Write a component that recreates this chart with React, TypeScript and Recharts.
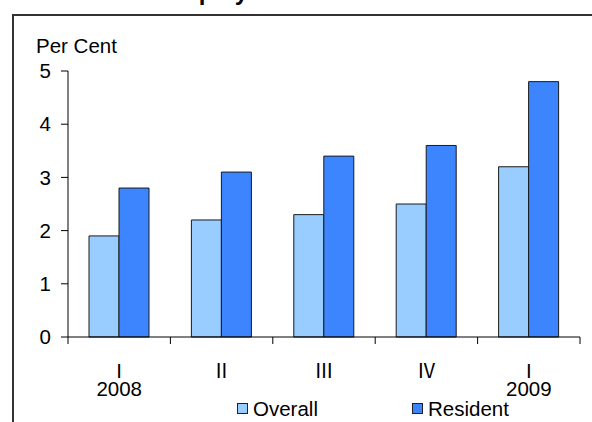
import React from "react";
import { BarChart, Bar, XAxis, YAxis } from "recharts";

const categories = ["I", "Ⅱ", "Ⅲ", "Ⅳ", "I"];
const years = ["2008", "", "", "", "2009"];
const overall = [1.9, 2.2, 2.3, 2.5, 3.2];
const resident = [2.8, 3.1, 3.4, 3.6, 4.8];
const yTicks = [0, 1, 2, 3, 4, 5];
const seriesNames = ["Overall", "Resident"];
const seriesColors = ["#99CCFF", "#3D85FF"];

const data = categories.map((c, i) => ({
  idx: i,
  label: c,
  year: years[i],
  overall: overall[i],
  resident: resident[i],
}));

const W = 592;
const H = 422;
const MARGIN = { top: 71, right: 12, bottom: 45, left: 0 };
const Y_W = 68;
const PLOT_W = W - MARGIN.left - MARGIN.right - Y_W;
const BAND = PLOT_W / categories.length;
const FONT = "Arial, 'Liberation Sans', 'Noto Sans CJK JP', sans-serif";
const ROMAN_FONT = "'Noto Sans CJK JP', 'Noto Sans CJK SC', sans-serif";
const FS = 20.5;
const TICK = 7;

const XTick = (props: any) => {
  const { x, y, payload, index } = props;
  const i = payload.value as number;
  const axisY = y - TICK;
  const left = x - BAND / 2;
  const right = x + BAND / 2;
  const lbl = categories[i];
  const isPlain = lbl === "I";
  return (
    <g>
      <line x1={left} x2={left} y1={axisY} y2={axisY + TICK} stroke="#000" strokeWidth={1} />
      {index === categories.length - 1 && (
        <line x1={right} x2={right} y1={axisY} y2={axisY + TICK} stroke="#000" strokeWidth={1} />
      )}
      <text
        x={x}
        y={axisY + 41}
        textAnchor="middle"
        fontSize={isPlain ? FS : FS - 1}
        fontFamily={isPlain ? FONT : ROMAN_FONT}
        fill="#000"
      >
        {lbl}
      </text>
      {years[i] && (
        <text x={x} y={axisY + 59} textAnchor="middle" fontSize={FS} fontFamily={FONT} fill="#000">
          {years[i]}
        </text>
      )}
    </g>
  );
};

export default function App() {
  return (
    <div
      style={{
        position: "fixed",
        left: 0,
        top: 0,
        width: W,
        height: H,
        overflow: "hidden",
        background: "#fff",
        fontFamily: FONT,
      }}
    >
      <div
        style={{
          position: "absolute",
          left: 44,
          top: -20,
          fontSize: 24,
          lineHeight: "24px",
          fontWeight: "bold",
          whiteSpace: "nowrap",
          color: "#000",
        }}
      >
        Overall Unemployment Rate
      </div>
      <div
        style={{
          position: "absolute",
          left: 12,
          top: 14,
          width: 640,
          height: 460,
          border: "2px solid #333",
          boxSizing: "border-box",
        }}
      />
      <div
        style={{
          position: "absolute",
          left: 36,
          top: 36,
          fontSize: FS,
          lineHeight: `${FS}px`,
          color: "#000",
          whiteSpace: "nowrap",
        }}
      >
        Per Cent
      </div>
      <div style={{ position: "absolute", left: 0, top: 0 }}>
        <BarChart width={W} height={H} data={data} margin={MARGIN} barSize={30} barGap={0}>
          <YAxis
            width={Y_W}
            domain={[0, 5]}
            ticks={yTicks}
            interval={0}
            axisLine={{ stroke: "#000", strokeWidth: 1 }}
            tickLine={{ stroke: "#000", strokeWidth: 1 }}
            tickSize={TICK}
            tickMargin={10}
            tick={{ fill: "#000", fontSize: FS, fontFamily: FONT }}
          />
          <XAxis
            dataKey="idx"
            height={40}
            interval={0}
            axisLine={{ stroke: "#000", strokeWidth: 1 }}
            tickLine={false}
            tickSize={TICK}
            tickMargin={0}
            tick={<XTick />}
          />
          <Bar dataKey="overall" name={seriesNames[0]} fill={seriesColors[0]} stroke="#1a1a1a" strokeWidth={1} isAnimationActive={false} />
          <Bar dataKey="resident" name={seriesNames[1]} fill={seriesColors[1]} stroke="#1a1a1a" strokeWidth={1} isAnimationActive={false} />
        </BarChart>
      </div>
      {seriesNames.map((n, i) => (
        <div key={n}>
          <div
            style={{
              position: "absolute",
              left: i === 0 ? 237 : 412,
              top: 403,
              width: 11,
              height: 11,
              background: seriesColors[i],
              border: "1px solid #222",
              boxSizing: "border-box",
            }}
          />
          <div
            style={{
              position: "absolute",
              left: i === 0 ? 253 : 428,
              top: 399,
              fontSize: FS,
              lineHeight: `${FS}px`,
              color: "#000",
              whiteSpace: "nowrap",
            }}
          >
            {n}
          </div>
        </div>
      ))}
    </div>
  );
}
